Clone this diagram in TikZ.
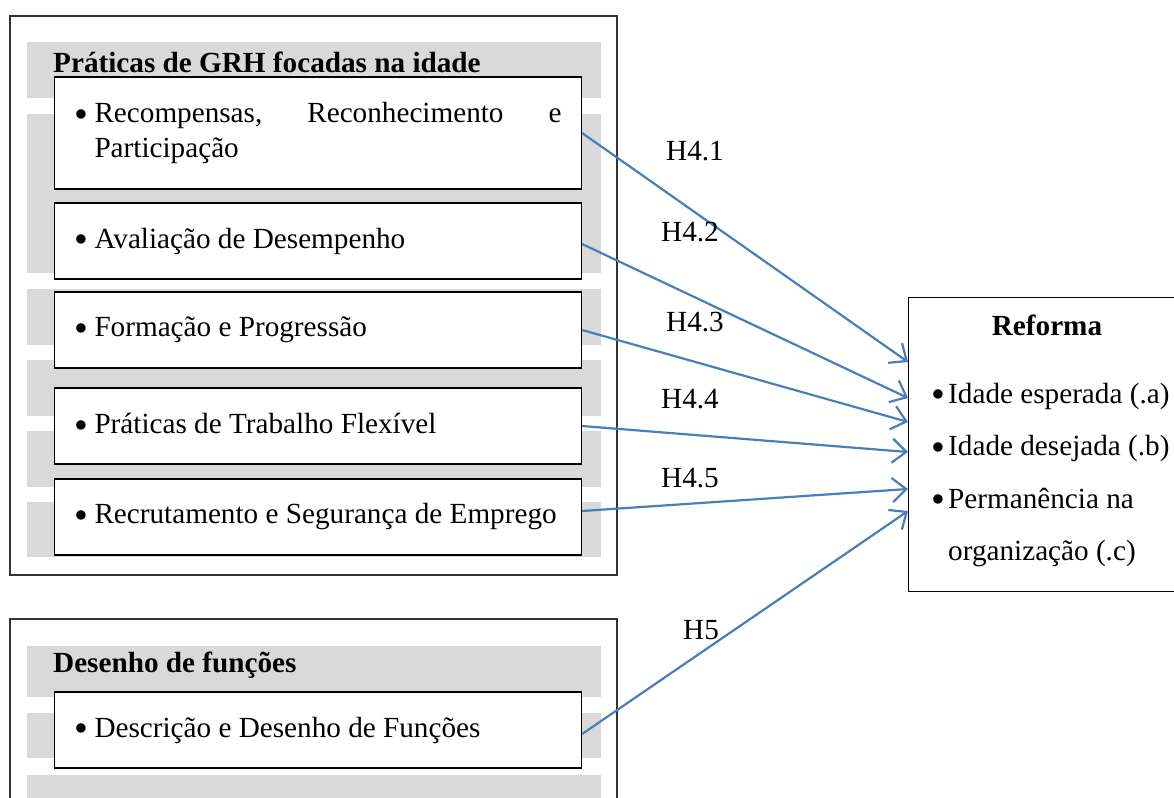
\documentclass[tikz,border=0pt]{standalone}
\usepackage{fontspec}
\setmainfont{Liberation Serif}
\usepackage{graphicx}
\usepackage{tikz}
\usetikzlibrary{arrows.meta}
\definecolor{hypblue}{HTML}{4A7EBB}
\definecolor{bandgray}{HTML}{D9D9D9}
\newcommand{\bul}[1][20pt]{\makebox[#1][l]{\raisebox{-4.5pt}{\scalebox{1.35}{\textbullet}}}}

\begin{document}
\begin{tikzpicture}[x=1pt,y=-1pt,
	every node/.style={font=\fontsize{29.2}{35}\selectfont},
	group/.style={draw=black!80,line width=1.3pt},
	title/.style={anchor=west,inner sep=0pt,font=\fontsize{29.2}{35}\selectfont\bfseries},
	item/.style={draw,line width=1.2pt,fill=white,text width=487pt,inner xsep=20pt,minimum height=76pt,align=flush left},
	hyp/.style={draw=hypblue,line width=2.2pt,-{Straight Barb[length=14pt,width=24pt]}}]
		\useasboundingbox (0,0) rectangle (1174,797);
		% groups on the left
		\draw[group] (10,16) rectangle (617,575);
		\draw[group] (10,619) rectangle (617,820);
		\foreach \a/\b in {42/98,114/273,289/345,360/416,431/487,502/557,646/697,713/758,775/810}
			\fill[bandgray] (27,\a) rectangle (601,\b);
		\node[title] (grh) at (53,62) {Práticas de GRH focadas na idade};
		\node[title] (desenho) at (53,665) {Desenho de funções};
		\node[item,minimum height=112pt] (rec) at (318,133) {\bul\makebox[467pt][l]{Recompensas,\hfill Reconhecimento\hfill e}\\\hspace*{20pt}Participação};
		\node[item] (ava) at (318,241) {\bul Avaliação de Desempenho};
		\node[item] (form) at (318,330) {\bul Formação e Progressão};
		\node[item] (flex) at (318,426) {\bul Práticas de Trabalho Flexível};
		\node[item] (recr) at (318,517) {\bul Recrutamento e Segurança de Emprego};
		\node[item] (desc) at (318,730) {\bul Descrição e Desenho de Funções};
		% outcome
		\node[draw,line width=1.2pt,minimum width=272pt,minimum height=294pt,anchor=north west] (reforma) at (908,297) {};
		\node[font=\fontsize{29.2}{35}\selectfont\bfseries] (reftitle) at (1047,325) {Reforma};
		\node[anchor=north west,inner sep=0pt,align=flush left,font=\fontsize{29.2}{52.3}\selectfont] (refitems) at (931,383)
			{\bul[17pt]Idade esperada (.a)\\\bul[17pt]Idade desejada (.b)\\\bul[17pt]Permanência na\\\hspace*{17pt}organização (.c)};
		% hypotheses
		\draw[hyp] (rec.east) -- ([yshift=-65pt]reforma.north west);
		\draw[hyp] ([yshift=-3pt]ava.east) -- ([yshift=-101pt]reforma.north west);
		\draw[hyp] (form.east) -- ([yshift=-125pt]reforma.north west);
		\draw[hyp] (flex.east) -- ([yshift=-155pt]reforma.north west);
		\draw[hyp] ([yshift=6pt]recr.east) -- ([yshift=-192pt]reforma.north west);
		\draw[hyp] ([yshift=-4pt]desc.east) -- ([yshift=-214pt]reforma.north west);
		\node (h41) at (695,151) {H4.1};
		\node (h42) at (690,232) {H4.2};
		\node (h43) at (695,322) {H4.3};
		\node (h44) at (690,399) {H4.4};
		\node (h45) at (690,478) {H4.5};
		\node (h5) at (701,630) {H5};
\end{tikzpicture}
\end{document}
